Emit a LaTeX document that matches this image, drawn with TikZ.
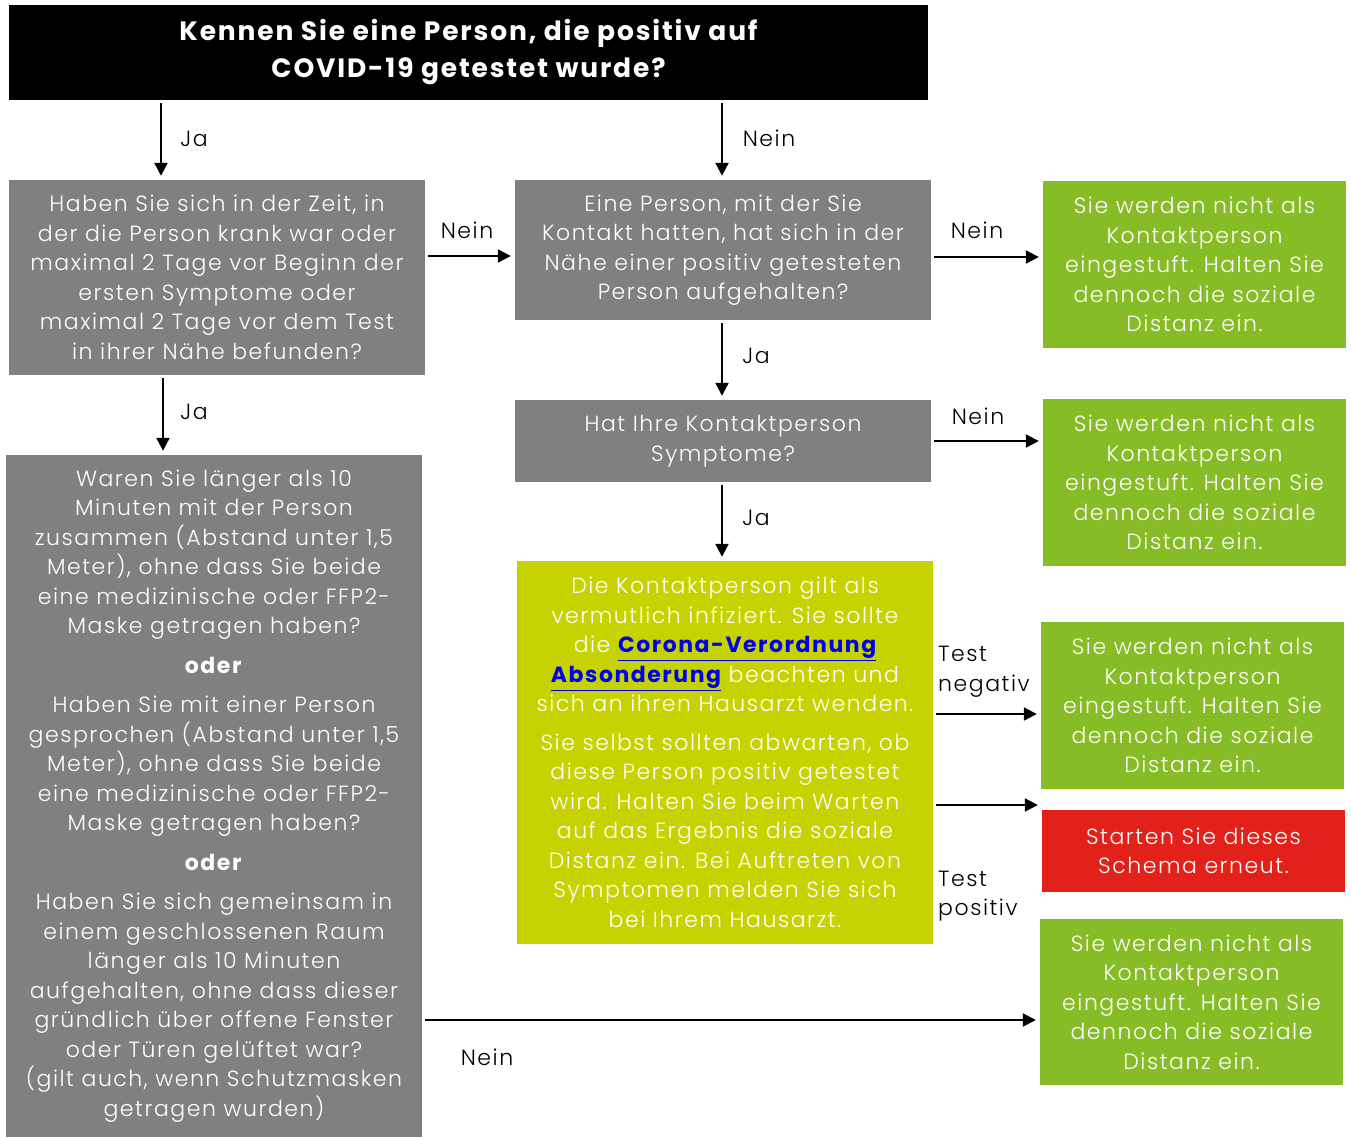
\documentclass[tikz,border=0pt]{standalone}
\usepackage{fontspec}
\setmainfont{Poppins}[UprightFont=* Light, BoldFont=* Bold, LetterSpace=7]
\usetikzlibrary{arrows.meta,calc}
\definecolor{boxgray}{RGB}{128,128,128}
\definecolor{okgreen}{RGB}{134,188,37}
\definecolor{limegreen}{RGB}{198,211,0}
\definecolor{alertred}{RGB}{226,34,26}
\definecolor{linkblue}{RGB}{0,0,238}
\newcommand{\lnk}[1]{\textcolor{linkblue}{\bfseries\underline{#1}}}
\begin{document}
\begin{tikzpicture}[x=1pt,y=-1pt,
  every node/.style={font=\fontsize{22}{29.5}\selectfont},
  box/.style={align=center,inner sep=0pt,text=white},
  graybox/.style={box,fill=boxgray,minimum width=416pt},
  greenbox/.style={box,fill=okgreen,minimum width=303pt,minimum height=167pt},
  arr/.style={line width=2.2pt,-{Triangle[length=13pt,width=13pt]},shorten >=4pt,shorten <=3pt},
  lbl/.style={text=black,inner sep=0pt},
]
\useasboundingbox (0,0) rectangle (1351,1137);

\node[box,fill=black,minimum width=919pt,minimum height=95pt,font=\bfseries\fontsize{26.5}{37}\selectfont] (top) at (468.5,52.5) {Kennen Sie eine Person, die positiv auf\\COVID-19 getestet wurde?};

\node[graybox,minimum height=195pt] (A) at (217,277.5) {Haben Sie sich in der Zeit, in\\der die Person krank war oder\\maximal 2 Tage vor Beginn der\\ersten Symptome oder\\maximal 2 Tage vor dem Test\\in ihrer Nähe befunden?};

\node[graybox,minimum height=140pt] (B) at (723,250) {Eine Person, mit der Sie\\Kontakt hatten, hat sich in der\\Nähe einer positiv getesteten\\Person aufgehalten?};

\node[greenbox] (G1) at (1194.5,264.5) {Sie werden nicht als\\Kontaktperson\\eingestuft. Halten Sie\\dennoch die soziale\\Distanz ein.};

\node[graybox,minimum height=82pt] (C) at (723,441) {Hat Ihre Kontaktperson\\Symptome?};

\node[greenbox] (G2) at (1194.5,482.5) {Sie werden nicht als\\Kontaktperson\\eingestuft. Halten Sie\\dennoch die soziale\\Distanz ein.};

\node[box,fill=limegreen,minimum width=416pt,minimum height=383pt] (D) at (725,752.5) {Die Kontaktperson gilt als\\vermutlich infiziert. Sie sollte\\die \lnk{Corona-Verordnung}\\\lnk{Absonderung} beachten und\\sich an ihren Hausarzt wenden.\\[9pt]Sie selbst sollten abwarten, ob\\diese Person positiv getestet\\wird. Halten Sie beim Warten\\auf das Ergebnis die soziale\\Distanz ein. Bei Auftreten von\\Symptomen melden Sie sich\\bei Ihrem Hausarzt.};

\node[greenbox] (G3) at (1192.5,705.5) {Sie werden nicht als\\Kontaktperson\\eingestuft. Halten Sie\\dennoch die soziale\\Distanz ein.};

\node[box,fill=alertred,minimum width=303pt,minimum height=82pt] (R) at (1193.5,851) {Starten Sie dieses\\Schema erneut.};

\node[greenbox,minimum height=166pt] (G4) at (1191.5,1002) {Sie werden nicht als\\Kontaktperson\\eingestuft. Halten Sie\\dennoch die soziale\\Distanz ein.};

\node[graybox,minimum height=682pt] (E) at (214,796) {Waren Sie länger als 10\\Minuten mit der Person\\zusammen (Abstand unter 1,5\\Meter), ohne dass Sie beide\\eine medizinische oder FFP2-\\Maske getragen haben?\\[10pt]\textbf{oder}\\[10pt]Haben Sie mit einer Person\\gesprochen (Abstand unter 1,5\\Meter), ohne dass Sie beide\\eine medizinische oder FFP2-\\Maske getragen haben?\\[10pt]\textbf{oder}\\[10pt]Haben Sie sich gemeinsam in\\einem geschlossenen Raum\\länger als 10 Minuten\\aufgehalten, ohne dass dieser\\gründlich über offene Fenster\\oder Türen gelüftet war?\\(gilt auch, wenn Schutzmasken\\getragen wurden)};

% connectors
\draw[arr] ([xshift=-56pt]A.north |- top.south) -- ([xshift=-56pt]A.north);
\draw[arr] ([xshift=-1pt]B.north |- top.south) -- ([xshift=-1pt]B.north);
\draw[arr] ([yshift=-6pt]B.west -| A.east) -- ([yshift=-6pt]B.west);
\draw[arr] ([yshift=-7pt]B.east) -- ([yshift=-7pt]B.east -| G1.west);
\draw[arr] ([xshift=-1pt]B.south) -- ([xshift=-1pt]B.south |- C.north);
\draw[arr] (C.east) -- (C.east -| G2.west);
\draw[arr] ([xshift=-1pt]C.south) -- ([xshift=-1pt]C.south |- D.north);
\draw[arr] ([yshift=-8.5pt]G3.west -| D.east) -- ([yshift=-8.5pt]G3.west);
\draw[arr] ([yshift=46pt]R.west -| D.east) -- ([yshift=46pt]R.west);
\draw[arr] ([xshift=-54pt]A.south) -- ([xshift=-54pt]A.south |- E.north);
\draw[arr] ([yshift=-18pt]G4.west -| E.east) -- ([yshift=-18pt]G4.west);

% labels
\node[lbl] (l1) at (194,139) {Ja};
\node[lbl] (l2) at (769,138) {Nein};
\node[lbl] (l3) at (467,230) {Nein};
\node[lbl] (l4) at (977,230) {Nein};
\node[lbl] (l5) at (756,356) {Ja};
\node[lbl] (l6) at (978,416) {Nein};
\node[lbl] (l7) at (756,518) {Ja};
\node[lbl,anchor=west,align=left] (l8) at (938,672) {Test\\negativ};
\node[lbl,anchor=west,align=left] (l9) at (938,896) {Test\\positiv};
\node[lbl] (l10) at (194,412) {Ja};
\node[lbl] (l11) at (487,1057) {Nein};
\end{tikzpicture}
\end{document}
